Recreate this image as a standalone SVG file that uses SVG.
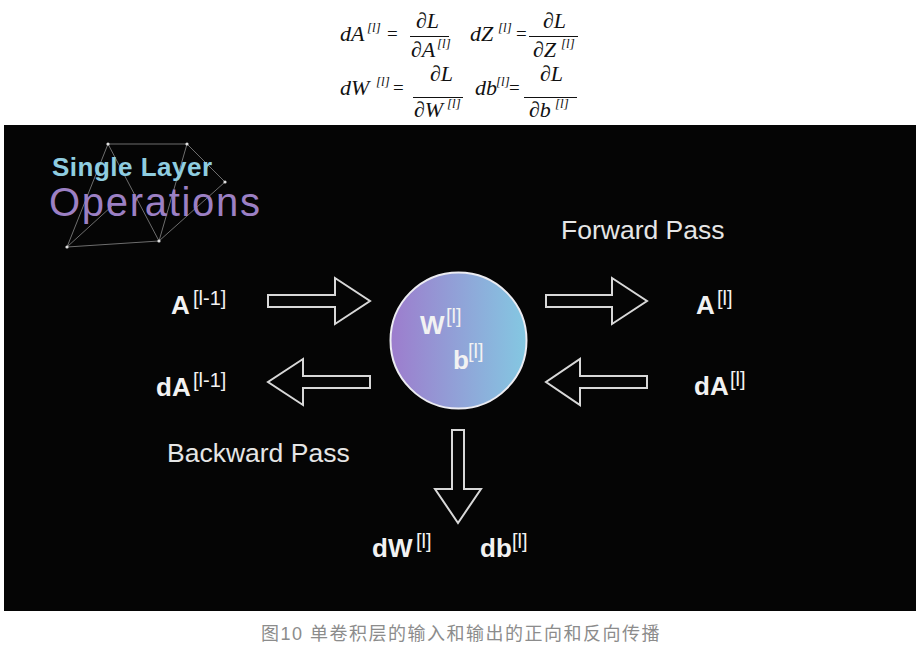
<svg xmlns="http://www.w3.org/2000/svg" width="922" height="656" viewBox="0 0 922 656">
<defs>
<linearGradient id="orb" x1="0" y1="0" x2="1" y2="0">
<stop offset="0" stop-color="#9d7ccd"/>
<stop offset="1" stop-color="#84c8e2"/>
</linearGradient>
<style>
.f{font-family:"Liberation Serif","Times New Roman",serif;font-style:italic;font-size:22px;fill:#111}
.fs{font-family:"Liberation Serif","Times New Roman",serif;font-style:italic;font-size:13px;fill:#111}
.eq{font-family:"Liberation Serif","Times New Roman",serif;font-size:19px;fill:#111}
.bar{stroke:#111;stroke-width:1}
.lbl{font-family:"Liberation Sans",Arial,sans-serif;font-weight:bold;font-size:26px;fill:#f2f2f2}
.sup{font-family:"Liberation Sans",Arial,sans-serif;font-size:20px;fill:#f2f2f2}
.pass{font-family:"Liberation Sans",Arial,sans-serif;font-size:26.5px;fill:#e6e6e6}
.arrow{fill:none;stroke:#d8d8d8;stroke-width:2;stroke-linejoin:miter}
.net{stroke:#9a9a9a;stroke-width:1;opacity:0.7}
.dot{fill:#e0e0e0}
</style>
</defs>
<rect width="922" height="656" fill="#ffffff"/>

<g id="formulas">
<text class="f" x="340" y="41">dA</text><text class="fs" x="367" y="32">[l]</text>
<text class="eq" x="387" y="40">=</text>
<text class="f" x="416" y="28">∂L</text>
<line class="bar" x1="410" y1="36.5" x2="449" y2="36.5"/>
<text class="f" x="411" y="57">∂A</text><text class="fs" x="437" y="48">[l]</text>

<text class="f" x="470" y="41">dZ</text><text class="fs" x="498" y="32">[l]</text>
<text class="eq" x="516" y="40">=</text>
<text class="f" x="543" y="28">∂L</text>
<line class="bar" x1="529" y1="36.5" x2="578" y2="36.5"/>
<text class="f" x="533" y="57">∂Z</text><text class="fs" x="561" y="48">[l]</text>

<text class="f" x="340" y="95">dW</text><text class="fs" x="376" y="86">[l]</text>
<text class="eq" x="393" y="94">=</text>
<text class="f" x="430" y="81">∂L</text>
<line class="bar" x1="413" y1="97.5" x2="463" y2="97.5"/>
<text class="f" x="414" y="117">∂W</text><text class="fs" x="447" y="108">[l]</text>

<text class="f" x="475" y="95">db</text><text class="fs" x="496" y="86">[l]</text>
<text class="eq" x="509" y="94">=</text>
<text class="f" x="540" y="81">∂L</text>
<line class="bar" x1="524" y1="97.5" x2="577" y2="97.5"/>
<text class="f" x="529" y="117">∂b</text><text class="fs" x="555" y="108">[l]</text>
</g>

<rect id="panel" x="4" y="125" width="912" height="486" fill="#050505"/>

<g id="title">
<g>
<line class="net" x1="108" y1="144" x2="187" y2="144"/>
<line class="net" x1="187" y1="144" x2="225" y2="182"/>
<line class="net" x1="108" y1="144" x2="67" y2="247"/>
<line class="net" x1="108" y1="144" x2="159" y2="241"/>
<line class="net" x1="187" y1="144" x2="159" y2="241"/>
<line class="net" x1="225" y1="182" x2="159" y2="241"/>
<line class="net" x1="67" y1="247" x2="159" y2="241"/>
<line class="net" x1="67" y1="247" x2="112" y2="206"/>
<circle class="dot" cx="108" cy="144" r="1.6"/>
<circle class="dot" cx="187" cy="144" r="1.6"/>
<circle class="dot" cx="225" cy="182" r="1.6"/>
<circle class="dot" cx="159" cy="241" r="1.6"/>
<circle class="dot" cx="67" cy="247" r="1.6"/>
</g>
<text x="52" y="176" font-family="'Liberation Sans',Arial,sans-serif" font-weight="bold" font-size="26" fill="#8fcde0" textLength="160">Single Layer</text>
<text x="49" y="216" font-family="'Liberation Sans',Arial,sans-serif" font-size="40" fill="#9c80c4" textLength="211">Operations</text>
</g>

<g id="node-layer">
<circle cx="458.5" cy="340.5" r="68" fill="url(#orb)" stroke="#ececf2" stroke-width="2"/>
<text class="lbl" x="420" y="334" font-size="22">W</text><text class="sup" x="446" y="323" font-size="15">[l]</text>
<text class="lbl" x="453" y="369" font-size="22">b</text><text class="sup" x="468" y="358" font-size="15">[l]</text>
</g>

<g id="label-a-prev"><text class="lbl" x="171" y="314">A</text><text class="sup" x="193" y="305">[l-1]</text></g>
<g id="label-da-prev"><text class="lbl" x="156" y="396">dA</text><text class="sup" x="193" y="387">[l-1]</text></g>
<g id="label-a"><text class="lbl" x="696" y="314">A</text><text class="sup" x="717" y="305">[l]</text></g>
<g id="label-da"><text class="lbl" x="694" y="395">dA</text><text class="sup" x="730" y="386">[l]</text></g>
<g id="label-dw"><text class="lbl" x="372" y="557">dW</text><text class="sup" x="416" y="548">[l]</text></g>
<g id="label-db"><text class="lbl" x="480" y="557">db</text><text class="sup" x="512" y="548">[l]</text></g>
<g id="label-forward"><text class="pass" x="561" y="239">Forward Pass</text></g>
<g id="label-backward"><text class="pass" x="167" y="462">Backward Pass</text></g>

<g id="connectors">
<polygon class="arrow" points="268,295 335,295 335,278 370,301 335,324 335,307 268,307"/>
<polygon class="arrow" points="546,295 612,295 612,278 647,301 612,324 612,307 546,307"/>
<polygon class="arrow" points="370,376 303,376 303,359 268,382 303,405 303,388 370,388"/>
<polygon class="arrow" points="647,376 580,376 580,359 546,382 580,405 580,388 647,388"/>
<polygon class="arrow" points="452,430 464,430 464,489 481,489 458,523 435,489 452,489"/>
</g>

<text id="caption" x="261" y="640" font-family="'Liberation Sans','Noto Sans CJK SC',sans-serif" font-size="18" letter-spacing="1.5" fill="#8c8c8c">图10 单卷积层的输入和输出的正向和反向传播</text>
</svg>
